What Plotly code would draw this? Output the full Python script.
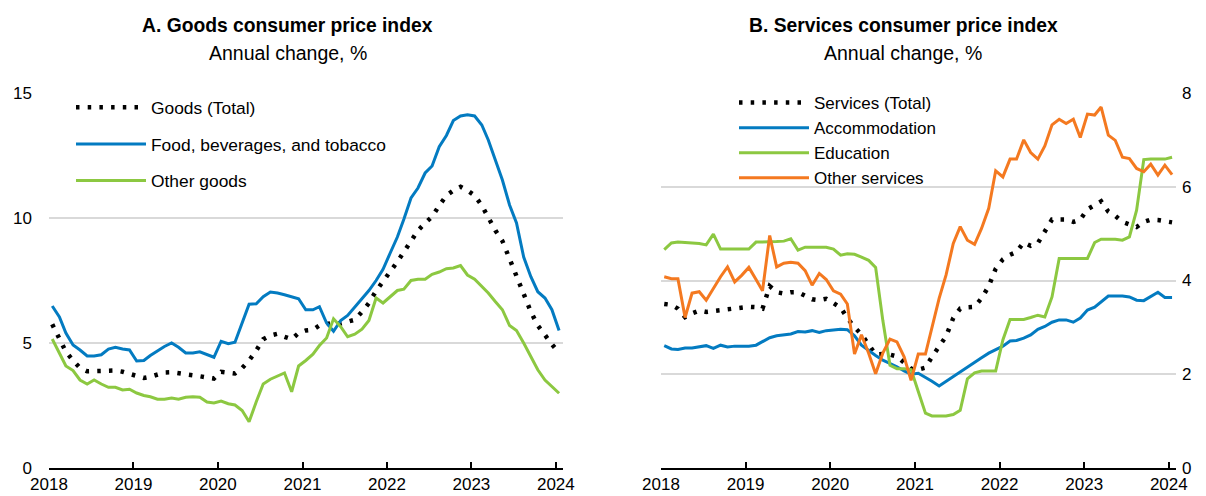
import pandas as pd
import plotly.graph_objects as go

months = pd.date_range("2018-01-01", periods=73, freq="MS") + pd.Timedelta(days=14)
months = [d.strftime("%Y-%m-%d") for d in months]

goods_total = [5.75, 5.2, 4.65, 4.3, 4.0, 3.87, 3.88, 3.9, 3.92, 3.9, 3.85, 3.76, 3.68, 3.6, 3.65, 3.72, 3.82, 3.83, 3.8, 3.76, 3.72, 3.67, 3.62, 3.58, 3.85, 3.82, 3.78, 4.0, 4.3, 4.7, 5.15, 5.3, 5.37, 5.25, 5.15, 5.4, 5.5, 5.53, 5.7, 5.76, 5.8, 5.78, 5.85, 5.93, 6.25, 6.6, 7.08, 7.45, 7.83, 8.25, 8.64, 9.1, 9.5, 9.8, 10.05, 10.5, 10.9, 11.1, 11.25, 11.1, 10.9, 10.5, 10.0, 9.5, 9.08, 8.35, 7.76, 6.95, 6.25, 5.7, 5.3, 4.95, 4.6]
food_bev_tobacco = [6.48, 6.04, 5.4, 4.92, 4.72, 4.48, 4.48, 4.53, 4.76, 4.83, 4.76, 4.72, 4.28, 4.3, 4.5, 4.7, 4.86, 5.0, 4.83, 4.6, 4.6, 4.65, 4.55, 4.43, 5.07, 4.97, 5.03, 5.8, 6.55, 6.57, 6.85, 7.04, 7.0, 6.93, 6.84, 6.77, 6.33, 6.33, 6.45, 5.8, 5.47, 5.9, 6.1, 6.45, 6.8, 7.1, 7.5, 7.95, 8.6, 9.24, 9.95, 10.8, 11.2, 11.8, 12.08, 12.85, 13.3, 13.9, 14.08, 14.13, 14.08, 13.72, 13.12, 12.32, 11.52, 10.52, 9.8, 8.44, 7.65, 7.05, 6.8, 6.33, 5.5]
other_goods = [5.16, 4.6, 4.08, 3.9, 3.52, 3.36, 3.52, 3.36, 3.23, 3.23, 3.12, 3.15, 3.0, 2.9, 2.85, 2.75, 2.75, 2.8, 2.75, 2.83, 2.85, 2.83, 2.64, 2.6, 2.68, 2.57, 2.52, 2.3, 1.85, 2.65, 3.36, 3.55, 3.68, 3.8, 3.05, 4.08, 4.3, 4.55, 4.9, 5.2, 5.97, 5.65, 5.25, 5.35, 5.55, 5.9, 6.8, 6.6, 6.85, 7.1, 7.15, 7.5, 7.55, 7.55, 7.75, 7.84, 7.97, 8.0, 8.1, 7.72, 7.55, 7.25, 7.0, 6.65, 6.33, 5.7, 5.5, 5.0, 4.45, 3.93, 3.52, 3.25, 2.99]

services_total = [3.5, 3.48, 3.4, 3.22, 3.3, 3.36, 3.33, 3.35, 3.37, 3.4, 3.42, 3.44, 3.44, 3.43, 3.4, 3.88, 3.75, 3.72, 3.75, 3.75, 3.68, 3.6, 3.58, 3.61, 3.52, 3.42, 3.2, 3.0, 2.85, 2.64, 2.42, 2.43, 2.42, 2.38, 2.25, 2.12, 2.1, 2.14, 2.37, 2.6, 2.81, 3.2, 3.4, 3.43, 3.44, 3.62, 3.88, 4.25, 4.45, 4.55, 4.61, 4.81, 4.74, 4.8, 5.05, 5.3, 5.3, 5.3, 5.25, 5.3, 5.52, 5.6, 5.69, 5.47, 5.38, 5.25, 5.2, 5.14, 5.25, 5.3, 5.29, 5.27, 5.24]
accommodation = [2.61, 2.54, 2.53, 2.56, 2.56, 2.58, 2.61, 2.55, 2.62, 2.58, 2.6, 2.6, 2.6, 2.62, 2.69, 2.78, 2.82, 2.84, 2.86, 2.91, 2.9, 2.93, 2.89, 2.93, 2.95, 2.96, 2.95, 2.82, 2.62, 2.5, 2.4, 2.3, 2.23, 2.16, 2.07, 2.0, 2.02, 1.94, 1.85, 1.75, 1.85, 1.96, 2.06, 2.15, 2.25, 2.35, 2.45, 2.53, 2.6, 2.71, 2.72, 2.77, 2.84, 2.96, 3.02, 3.11, 3.16, 3.16, 3.11, 3.2, 3.37, 3.43, 3.55, 3.67, 3.67, 3.67, 3.65, 3.58, 3.57, 3.65, 3.75, 3.64, 3.64]
education = [4.66, 4.8, 4.82, 4.81, 4.8, 4.79, 4.76, 4.99, 4.67, 4.67, 4.67, 4.67, 4.67, 4.82, 4.82, 4.82, 4.83, 4.84, 4.89, 4.65, 4.71, 4.71, 4.71, 4.71, 4.67, 4.54, 4.57, 4.56, 4.5, 4.43, 4.28, 3.15, 2.19, 2.12, 2.12, 2.1, 1.63, 1.17, 1.11, 1.11, 1.11, 1.14, 1.23, 1.9, 2.03, 2.07, 2.07, 2.07, 2.73, 3.17, 3.17, 3.17, 3.21, 3.26, 3.22, 3.65, 4.47, 4.47, 4.47, 4.47, 4.47, 4.81, 4.88, 4.88, 4.88, 4.86, 4.93, 5.5, 6.58, 6.59, 6.59, 6.59, 6.63]
other_services = [4.08, 4.04, 4.04, 3.21, 3.73, 3.76, 3.58, 3.83, 4.08, 4.29, 3.97, 4.11, 4.28, 4.02, 3.78, 4.96, 4.29, 4.37, 4.39, 4.37, 4.21, 3.9, 4.15, 4.02, 3.78, 3.71, 3.5, 2.43, 2.84, 2.45, 2.01, 2.45, 2.75, 2.69, 2.37, 1.87, 2.43, 2.43, 3.02, 3.62, 4.12, 4.79, 5.15, 4.86, 4.77, 5.11, 5.54, 6.34, 6.21, 6.59, 6.59, 7.0, 6.73, 6.59, 6.87, 7.32, 7.44, 7.35, 7.44, 7.05, 7.55, 7.53, 7.7, 7.1, 6.99, 6.63, 6.6, 6.39, 6.32, 6.48, 6.25, 6.46, 6.26]

BLUE = "#037BC1"
GREEN = "#8CC841"
ORANGE = "#F47920"
BLACK = "#000000"
FONT = "Liberation Sans, Arial, sans-serif"
DOT = "3.5px,8.2px"

fig = go.Figure()

def add(x, y, name, color, xa, ya, leg, dash=None, width=3, group=None):
    line = dict(color=color, width=width)
    if dash:
        line["dash"] = dash
    fig.add_trace(go.Scatter(x=x, y=y, name=name, mode="lines", line=line,
                             xaxis=xa, yaxis=ya, legend=leg, legendgroup=group))

add(months, goods_total, "Goods (Total)", BLACK, "x", "y", "legend", dash=DOT, width=4.5, group="g1")
add(months, food_bev_tobacco, "Food, beverages, and tobacco", BLUE, "x", "y", "legend", group="g2")
add(months, other_goods, "Other goods", GREEN, "x", "y", "legend", group="g3")

add(months, services_total, "Services (Total)", BLACK, "x2", "y2", "legend2", dash=DOT, width=4.5)
add(months, accommodation, "Accommodation", BLUE, "x2", "y2", "legend2")
add(months, education, "Education", GREEN, "x2", "y2", "legend2")
add(months, other_services, "Other services", ORANGE, "x2", "y2", "legend2")

W, H = 1206, 496
def px(x):
    return x / W
def py(y):
    return 1 - y / H

xcommon = dict(type="date", range=["2018-01-01", "2024-02-01"], dtick="M12", tickformat="%Y",
               tick0="2018-01-01", showgrid=False, zeroline=False, showline=True, linecolor=BLACK,
               linewidth=2, ticks="inside", ticklen=6, tickwidth=2, tickcolor=BLACK,
               tickfont=dict(family=FONT, size=17, color=BLACK), automargin=False)
ycommon = dict(showgrid=True, gridcolor="#d9d9d9", gridwidth=2, zeroline=False, showline=False,
               ticks="", tickfont=dict(family=FONT, size=17, color=BLACK), automargin=False)

fig.update_layout(
    width=W, height=H,
    margin=dict(l=0, r=0, t=0, b=0),
    paper_bgcolor="white", plot_bgcolor="white",
    font=dict(family=FONT, color=BLACK),
    xaxis=dict(xcommon, domain=[px(49), px(563)], anchor="y"),
    yaxis=dict(ycommon, domain=[py(468), py(93)], range=[0, 15], dtick=5, anchor="x",
               side="left", ticklabelstandoff=16),
    xaxis2=dict(xcommon, domain=[px(661), px(1176)], anchor="y2"),
    yaxis2=dict(ycommon, domain=[py(468), py(93)], range=[0, 8], dtick=2, anchor="x2",
                side="right", ticklabelstandoff=5),
    legend=dict(x=px(71), y=py(89.5), xanchor="left", yanchor="top", bgcolor="rgba(0,0,0,0)",
                font=dict(family=FONT, size=17.4, color=BLACK), itemwidth=70,
                traceorder="grouped", tracegroupgap=11),
    legend2=dict(x=px(734), y=py(85), xanchor="left", yanchor="top", bgcolor="rgba(0,0,0,0)",
                 font=dict(family=FONT, size=17, color=BLACK), itemwidth=70,
                 tracegroupgap=0),
    showlegend=True,
    hovermode=False,
    annotations=[
        dict(text="<b>A. Goods consumer price index</b>", x=px(287.5), y=py(25), xref="paper", yref="paper",
             showarrow=False, xanchor="center", yanchor="middle", font=dict(family=FONT, size=19.3, color=BLACK)),
        dict(text="Annual change, %", x=px(287.5), y=py(53), xref="paper", yref="paper",
             showarrow=False, xanchor="center", yanchor="middle", font=dict(family=FONT, size=19.5, color=BLACK)),
        dict(text="<b>B. Services consumer price index</b>", x=px(903), y=py(25), xref="paper", yref="paper",
             showarrow=False, xanchor="center", yanchor="middle", font=dict(family=FONT, size=19.3, color=BLACK)),
        dict(text="Annual change, %", x=px(903), y=py(53), xref="paper", yref="paper",
             showarrow=False, xanchor="center", yanchor="middle", font=dict(family=FONT, size=19.5, color=BLACK)),
    ],
)

fig.write_html("out.html", config={"displayModeBar": False},
               post_script="document.body.style.margin='0px';document.body.style.overflow='hidden';")
